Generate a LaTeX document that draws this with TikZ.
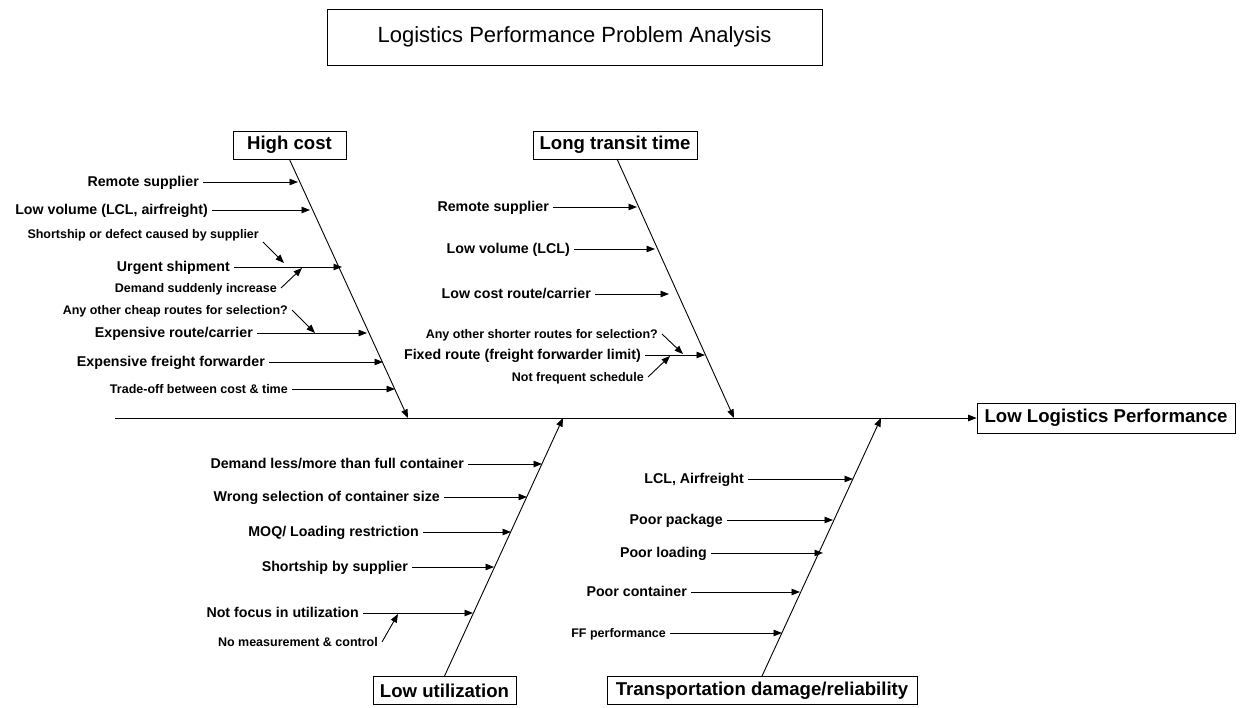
\documentclass[tikz,border=0pt]{standalone}
\usepackage{fontspec}
\setmainfont{Liberation Sans}
\usetikzlibrary{arrows.meta}
\begin{document}
\begin{tikzpicture}[x=1pt,y=-1pt,
  arr/.style={-{Triangle[length=8.5pt,width=6.5pt]}, line width=0.9pt},
  catbox/.style={draw, line width=0.9pt, fill=white, font=\fontsize{18.6}{18.6}\selectfont\bfseries,
    minimum height=28, inner sep=0pt},
  cause/.style={font=\fontsize{14.2}{14.2}\selectfont\bfseries, anchor=east, inner xsep=4pt, inner ysep=0pt,
    text height=0.94em, text depth=0pt},
  subcause/.style={cause, font=\fontsize{12.5}{12.5}\selectfont\bfseries}]
\useasboundingbox (0,0) rectangle (1243,708);

% title
\node[draw, line width=0.9pt, minimum width=495, minimum height=56, inner sep=0pt,
  font=\fontsize{22}{22}\selectfont] (title) at (574.5,37) {Logistics Performance Problem Analysis};

% spine and effect
\node[catbox, minimum width=258, minimum height=30] (eff) at (1106,418) {Low Logistics Performance};
\coordinate (sp0) at (115,418);
\draw[arr] (sp0) -- (eff.west);

% category boxes
\node[catbox, minimum width=113] (hc) at (289.5,145) {High cost};
\node[catbox, minimum width=164] (lt) at (615,145) {Long transit time};
\node[catbox, minimum width=143] (lu) at (444.5,690.5) {Low utilization};
\node[catbox, minimum width=310] (td) at (762,690.5) {Transportation damage/reliability};

% bones
\coordinate (hcE) at (408,418);
\coordinate (ltS) at (617,159);
\coordinate (ltE) at (734,418);
\coordinate (luE) at (563,418);
\coordinate (tdE) at (881,418);
\draw[arr] (hc.south) -- (hcE);
\draw[arr] (ltS) -- (ltE);
\draw[arr] (lu.north) -- (luE);
\draw[arr] (td.north) -- (tdE);

% ---- High cost
\node[cause] (h1) at (203,182) {Remote supplier};
\coordinate (h1e) at (298,182);
\draw[arr] (h1.east) -- (h1e);
\node[cause] (h2) at (212,210) {Low volume (LCL, airfreight)};
\coordinate (h2e) at (310,210);
\draw[arr] (h2.east) -- (h2e);
\node[subcause] (h3a) at (263,234) {Shortship or defect caused by supplier};
\node[cause] (h3) at (234,267) {Urgent shipment};
\coordinate (h3e) at (342,267);
\draw[arr] (h3.east) -- (h3e);
\coordinate (h3as) at (263,242);
\coordinate (h3ae) at (284,263);
\draw[arr] (h3as) -- (h3ae);
\node[subcause] (h3b) at (281,288) {Demand suddenly increase};
\coordinate (h3be) at (302,268);
\draw[arr] (h3b.east) -- (h3be);
\node[subcause] (h4a) at (292,310) {Any other cheap routes for selection?};
\node[cause] (h4) at (257,333) {Expensive route/carrier};
\coordinate (h4e) at (367,333);
\draw[arr] (h4.east) -- (h4e);
\coordinate (h4ae) at (315,333);
\draw[arr] (h4a.east) -- (h4ae);
\node[cause] (h5) at (269,362) {Expensive freight forwarder};
\coordinate (h5e) at (383,362);
\draw[arr] (h5.east) -- (h5e);
\node[subcause] (h6) at (292,389) {Trade-off between cost \& time};
\coordinate (h6e) at (395,389);
\draw[arr] (h6.east) -- (h6e);

% ---- Long transit time
\node[cause] (l1) at (553,207) {Remote supplier};
\coordinate (l1e) at (637,207);
\draw[arr] (l1.east) -- (l1e);
\node[cause] (l2) at (574,249) {Low volume (LCL)};
\coordinate (l2e) at (655,249);
\draw[arr] (l2.east) -- (l2e);
\node[cause] (l3) at (595,294) {Low cost route/carrier};
\coordinate (l3e) at (669,294);
\draw[arr] (l3.east) -- (l3e);
\node[subcause] (l4a) at (662,334) {Any other shorter routes for selection?};
\node[cause] (l4) at (645,355) {Fixed route (freight forwarder limit)};
\coordinate (l4e) at (705,355);
\draw[arr] (l4.east) -- (l4e);
\coordinate (l4ae) at (683,354);
\draw[arr] (l4a.east) -- (l4ae);
\node[subcause] (l4b) at (648,377) {Not frequent schedule};
\coordinate (l4be) at (670,356);
\draw[arr] (l4b.east) -- (l4be);

% ---- Low utilization
\node[cause] (u1) at (468,464) {Demand less/more than full container};
\coordinate (u1e) at (542,464);
\draw[arr] (u1.east) -- (u1e);
\node[cause] (u2) at (444,497) {Wrong selection of container size};
\coordinate (u2e) at (527,497);
\draw[arr] (u2.east) -- (u2e);
\node[cause] (u3) at (423,532) {MOQ/ Loading restriction};
\coordinate (u3e) at (511,532);
\draw[arr] (u3.east) -- (u3e);
\node[cause] (u4) at (412,567) {Shortship by supplier};
\coordinate (u4e) at (494,567);
\draw[arr] (u4.east) -- (u4e);
\node[cause] (u5) at (363,613) {Not focus in utilization};
\coordinate (u5e) at (473,613);
\draw[arr] (u5.east) -- (u5e);
\node[subcause] (u5a) at (382,642) {No measurement \& control};
\coordinate (u5ae) at (398,614);
\draw[arr] (u5a.east) -- (u5ae);

% ---- Transportation damage/reliability
\node[cause] (t1) at (748,479) {LCL, Airfreight};
\coordinate (t1e) at (853,479);
\draw[arr] (t1.east) -- (t1e);
\node[cause] (t2) at (727,520) {Poor package};
\coordinate (t2e) at (833,520);
\draw[arr] (t2.east) -- (t2e);
\node[cause] (t3) at (711,553) {Poor loading};
\coordinate (t3e) at (823,553);
\draw[arr] (t3.east) -- (t3e);
\node[cause] (t4) at (691,592) {Poor container};
\coordinate (t4e) at (800,592);
\draw[arr] (t4.east) -- (t4e);
\node[subcause] (t5) at (670,633) {FF performance};
\coordinate (t5e) at (782,633);
\draw[arr] (t5.east) -- (t5e);
\end{tikzpicture}
\end{document}
